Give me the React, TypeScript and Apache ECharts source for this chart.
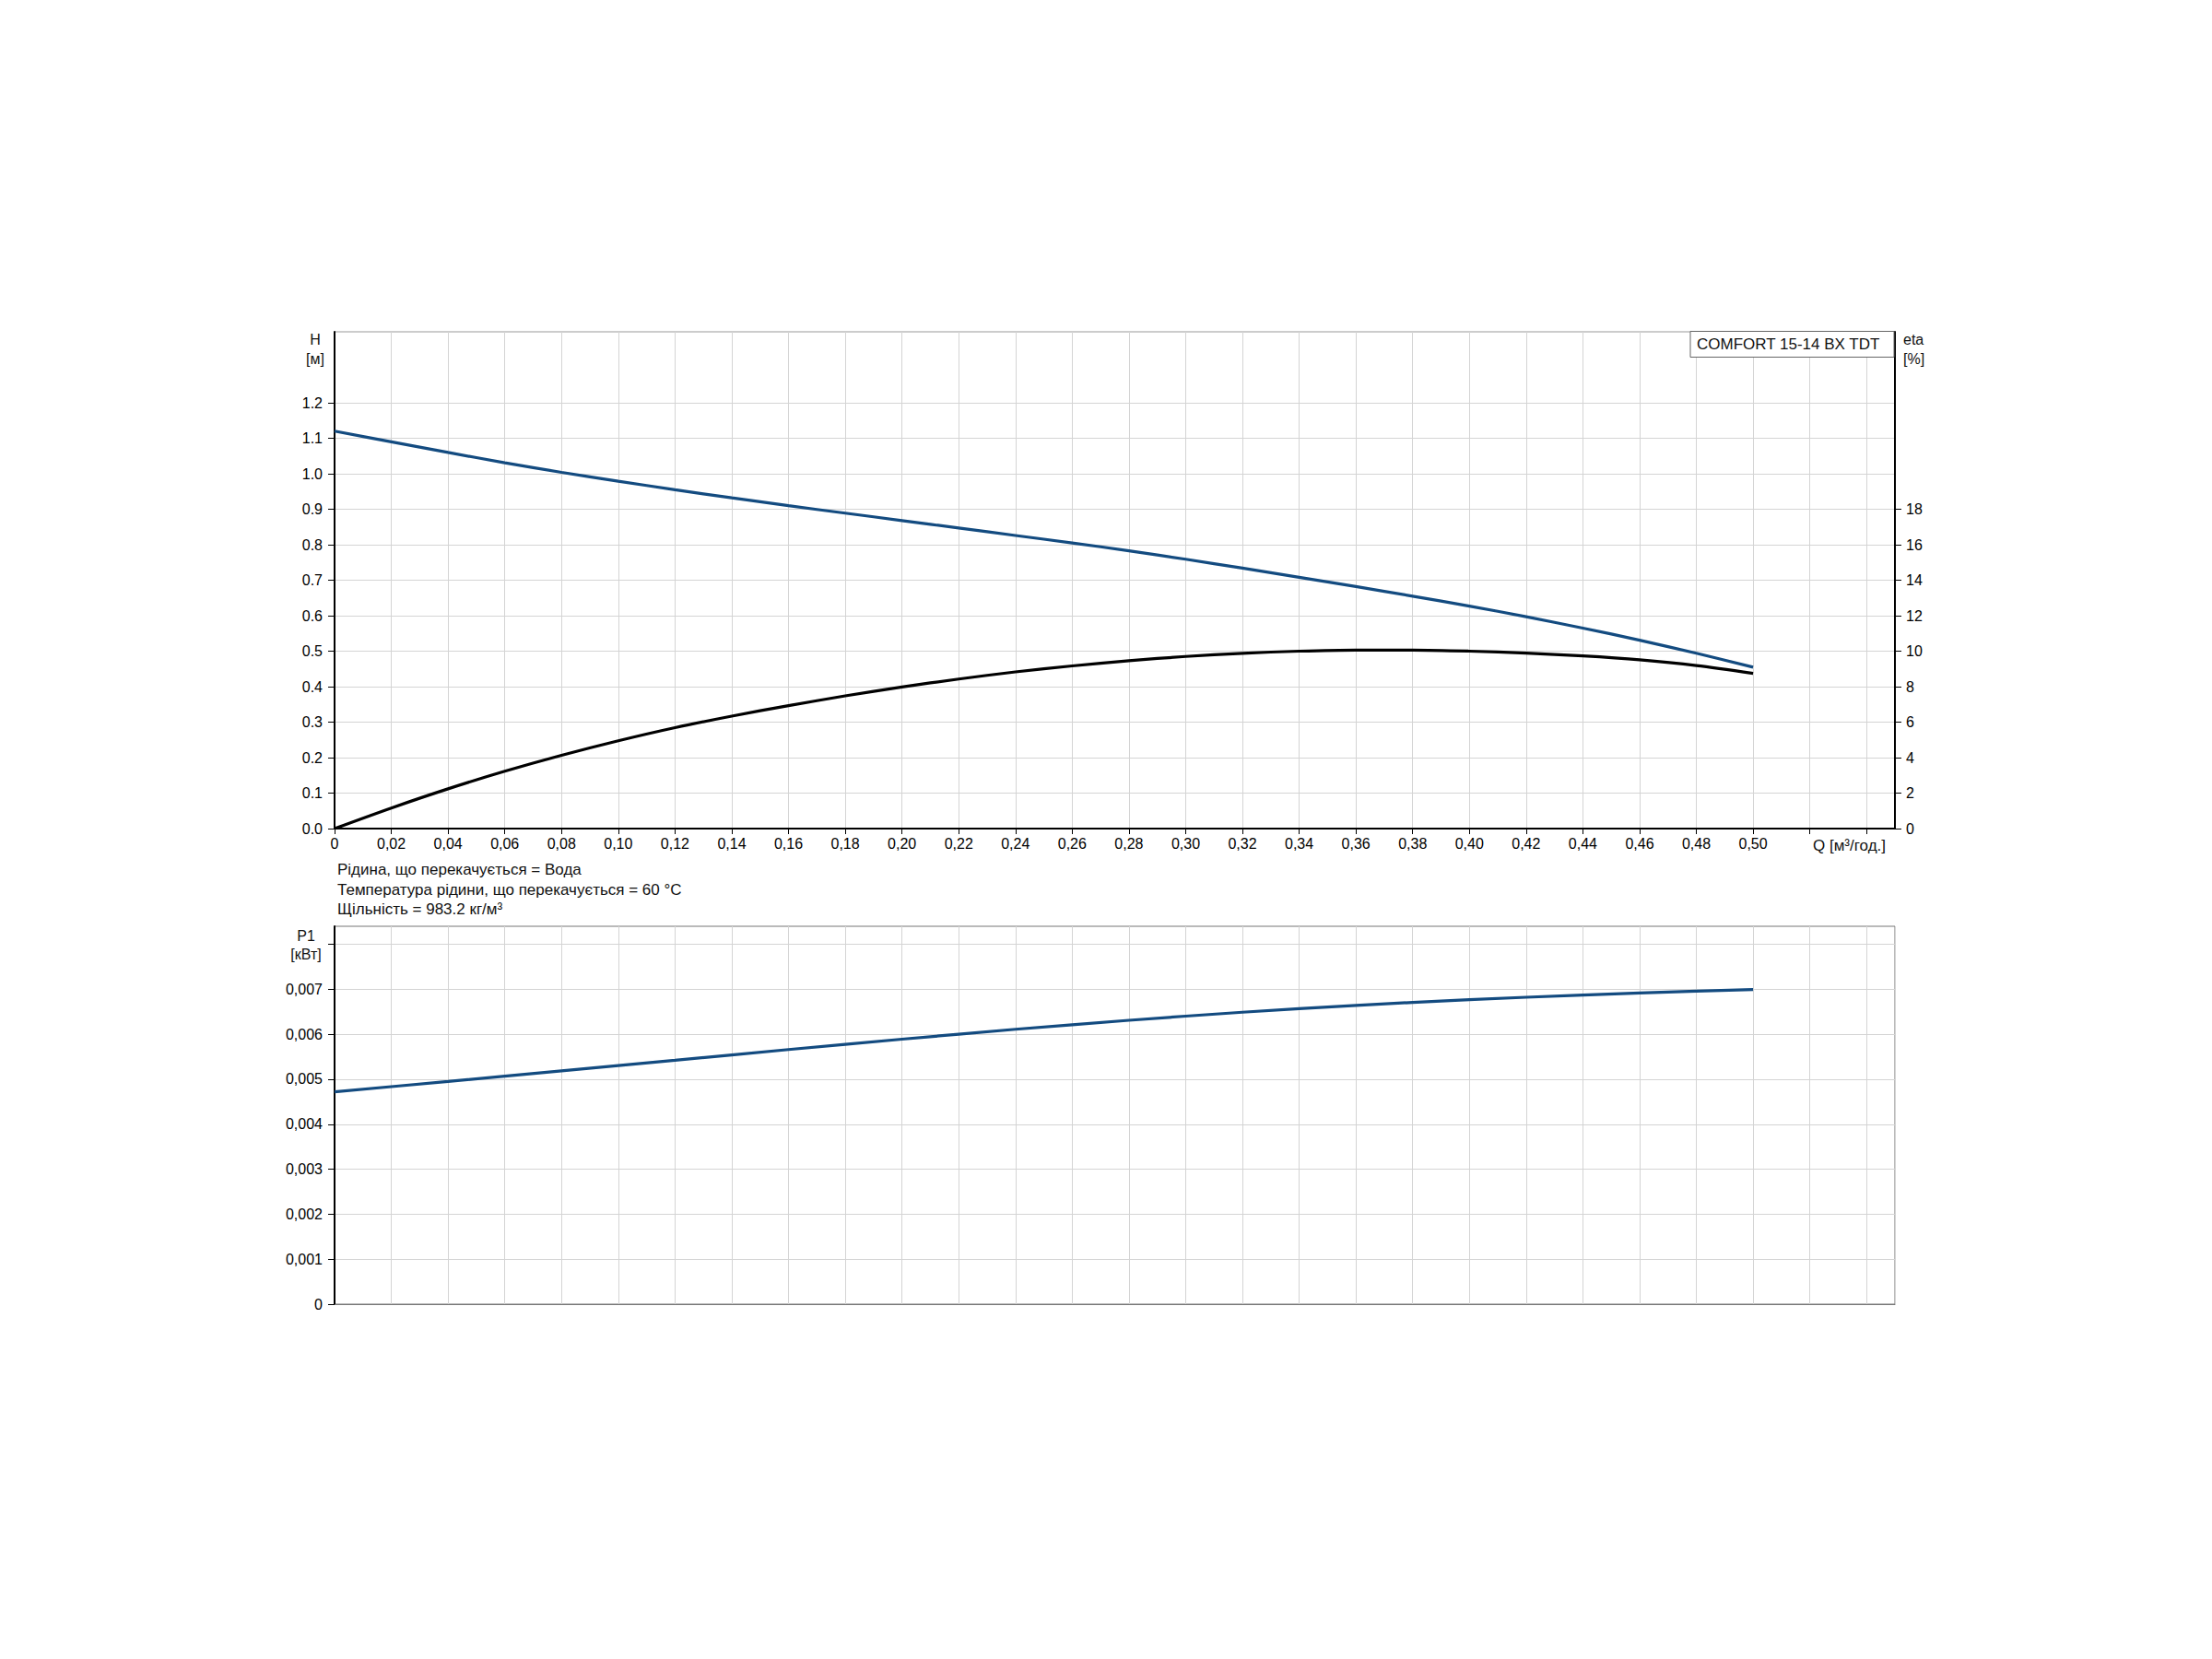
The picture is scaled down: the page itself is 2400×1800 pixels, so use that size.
import React, { useEffect, useRef } from "react";
import * as echarts from "echarts";

// Flow rate samples (m³/h) for the head and efficiency curves
const qValues = [0, 0.02, 0.04, 0.06, 0.08, 0.1, 0.12, 0.14, 0.16, 0.18, 0.2, 0.22, 0.24, 0.26, 0.28, 0.3, 0.32, 0.34, 0.36, 0.38, 0.4, 0.42, 0.44, 0.46, 0.48, 0.5];
// Head H [m]
const headValues = [1.12, 1.09, 1.06, 1.031, 1.004, 0.979, 0.955, 0.932, 0.91, 0.889, 0.868, 0.847, 0.826, 0.805, 0.783, 0.759, 0.734, 0.708, 0.682, 0.655, 0.627, 0.597, 0.565, 0.531, 0.494, 0.455];
// Efficiency eta [%]
const etaValues = [0, 1.16, 2.24, 3.23, 4.13, 4.95, 5.69, 6.34, 6.93, 7.48, 7.98, 8.43, 8.83, 9.17, 9.46, 9.7, 9.88, 10.0, 10.06, 10.06, 10.0, 9.89, 9.73, 9.51, 9.19, 8.75];
// Power P1 samples
const qPower = [0, 0.04, 0.08, 0.12, 0.16, 0.2, 0.24, 0.28, 0.32, 0.36, 0.4, 0.44, 0.48, 0.5];
const powerValues = [0.00472, 0.00495, 0.005185, 0.00542, 0.00566, 0.00589, 0.00611, 0.00631, 0.00649, 0.00664, 0.00677, 0.00687, 0.00696, 0.006993];

// Tick values
const qTicks = [0, 0.02, 0.04, 0.06, 0.08, 0.1, 0.12, 0.14, 0.16, 0.18, 0.2, 0.22, 0.24, 0.26, 0.28, 0.3, 0.32, 0.34, 0.36, 0.38, 0.4, 0.42, 0.44, 0.46, 0.48, 0.5, 0.52, 0.54];
const qLabelTicks = [0, 0.02, 0.04, 0.06, 0.08, 0.1, 0.12, 0.14, 0.16, 0.18, 0.2, 0.22, 0.24, 0.26, 0.28, 0.3, 0.32, 0.34, 0.36, 0.38, 0.4, 0.42, 0.44, 0.46, 0.48, 0.5];
const hTicks = [0, 0.1, 0.2, 0.3, 0.4, 0.5, 0.6, 0.7, 0.8, 0.9, 1.0, 1.1, 1.2];
const etaTicks = [0, 2, 4, 6, 8, 10, 12, 14, 16, 18];
const pTicks = [0, 0.001, 0.002, 0.003, 0.004, 0.005, 0.006, 0.007, 0.008];
const pLabelTicks = [0, 0.001, 0.002, 0.003, 0.004, 0.005, 0.006, 0.007];

const infoLines = [
  "Рідина, що перекачується = Вода",
  "Температура рідини, що перекачується = 60 °C",
  "Щільність = 983.2 кг/м³",
];
const legendName = "COMFORT 15-14 BX TDT";

const FONT = "'Liberation Sans', Arial, sans-serif";
const BLUE = "#134b80";
const GRID = "#d4d4d4";

export default function App() {
  const ref = useRef<HTMLDivElement>(null);
  useEffect(() => {
    if (!ref.current) return;
    const chart = echarts.init(ref.current, null, { renderer: "svg" });
    const labelStyle = { color: "#000", fontSize: 16, fontFamily: FONT };
    const commaFmt = (d: number) => (v: number) => (v === 0 ? "0" : v.toFixed(d).replace(".", ","));
    const txt = (x: number, y: number, text: string, align: string, size = 16) => ({
      type: "text",
      x,
      y,
      style: { text, fill: "#111", fontSize: size, fontFamily: FONT, textAlign: align, textVerticalAlign: "middle" },
    });

    const option: any = {
      animation: false,
      backgroundColor: "#fff",
      grid: [
        { left: 363, top: 360, width: 1693, height: 539, show: true, borderColor: "#999", borderWidth: 1 },
        { left: 363, top: 1005, width: 1693, height: 410, show: true, borderColor: "#777", borderWidth: 1 },
      ],
      xAxis: [
        {
          type: "value",
          gridIndex: 0,
          min: 0,
          max: 0.55,
          interval: 0.02,
          axisLine: { show: true, onZero: false, lineStyle: { color: "#000", width: 2 } },
          axisTick: { show: true, length: 6, lineStyle: { color: "#000", width: 1 }, customValues: qTicks },
          axisLabel: { ...labelStyle, margin: 8, customValues: qLabelTicks, formatter: commaFmt(2) },
          splitLine: { show: true, lineStyle: { color: GRID, width: 1 } },
        },
        {
          type: "value",
          gridIndex: 1,
          min: 0,
          max: 0.55,
          interval: 0.02,
          axisLine: { show: true, onZero: false, lineStyle: { color: "#777", width: 1 } },
          axisTick: { show: false },
          axisLabel: { show: false },
          splitLine: { show: true, lineStyle: { color: GRID, width: 1 } },
        },
      ],
      yAxis: [
        {
          type: "value",
          gridIndex: 0,
          min: 0,
          max: 1.4,
          interval: 0.1,
          position: "left",
          axisLine: { show: true, lineStyle: { color: "#000", width: 2 } },
          axisTick: { show: true, length: 7, lineStyle: { color: "#000", width: 1 }, customValues: hTicks },
          axisLabel: { ...labelStyle, margin: 13, customValues: hTicks, formatter: (v: number) => v.toFixed(1) },
          splitLine: { show: true, lineStyle: { color: GRID, width: 1 } },
        },
        {
          type: "value",
          gridIndex: 0,
          min: 0,
          max: 28,
          interval: 2,
          position: "right",
          axisLine: { show: true, lineStyle: { color: "#000", width: 2 } },
          axisTick: { show: true, length: 7, lineStyle: { color: "#000", width: 1 }, customValues: etaTicks },
          axisLabel: { ...labelStyle, margin: 12, customValues: etaTicks },
          splitLine: { show: false },
        },
        {
          type: "value",
          gridIndex: 1,
          min: 0,
          max: 0.0084,
          interval: 0.001,
          position: "left",
          axisLine: { show: true, lineStyle: { color: "#000", width: 2 } },
          axisTick: { show: true, length: 7, lineStyle: { color: "#000", width: 1 }, customValues: pTicks },
          axisLabel: { ...labelStyle, margin: 13, customValues: pLabelTicks, formatter: commaFmt(3) },
          splitLine: { show: true, lineStyle: { color: GRID, width: 1 } },
        },
      ],
      series: [
        {
          name: "H",
          type: "line",
          xAxisIndex: 0,
          yAxisIndex: 0,
          data: qValues.map((q, i) => [q, headValues[i]]),
          smooth: 0.3,
          showSymbol: false,
          lineStyle: { color: BLUE, width: 3.2 },
          z: 3,
        },
        {
          name: "eta",
          type: "line",
          xAxisIndex: 0,
          yAxisIndex: 1,
          data: qValues.map((q, i) => [q, etaValues[i]]),
          smooth: 0.3,
          showSymbol: false,
          lineStyle: { color: "#000", width: 3.2 },
          z: 2,
        },
        {
          name: "P1",
          type: "line",
          xAxisIndex: 1,
          yAxisIndex: 2,
          data: qPower.map((q, i) => [q, powerValues[i]]),
          smooth: 0.3,
          showSymbol: false,
          lineStyle: { color: BLUE, width: 3.2 },
        },
      ],
      graphic: [
        txt(342, 368, "H", "center"),
        txt(342, 389, "[м]", "center"),
        txt(2065, 368, "eta", "left"),
        txt(2065, 389, "[%]", "left"),
        {
          type: "rect",
          shape: { x: 1834, y: 359.5, width: 221, height: 28 },
          style: { fill: "#fff", stroke: "#666", lineWidth: 1 },
          z: 10,
        },
        { ...txt(1841, 373.5, legendName, "left", 17), z: 11 },
        txt(1967, 917, "Q [м³/год.]", "left", 17),
        txt(366, 943, infoLines[0], "left", 17),
        txt(366, 965, infoLines[1], "left", 17),
        txt(366, 986, infoLines[2], "left", 17),
        txt(332, 1015, "P1", "center"),
        txt(332, 1035, "[кВт]", "center"),
      ],
    };
    chart.setOption(option);
    return () => chart.dispose();
  }, []);
  return <div ref={ref} style={{ position: "absolute", left: 0, top: 0, width: 2400, height: 1800 }} />;
}
